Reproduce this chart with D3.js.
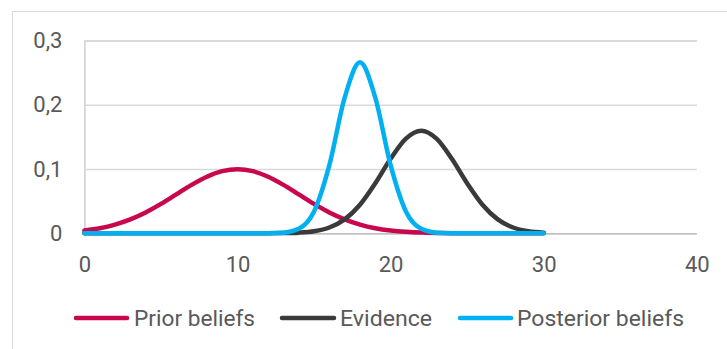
<!DOCTYPE html>
<html>
<head>
<meta charset="utf-8">
<script src="https://cdn.jsdelivr.net/npm/d3@7"></script>
<style>
  html, body { margin: 0; padding: 0; background: #ffffff; }
  svg { display: block; }
  text { font-family: Roboto, "Open Sans", sans-serif; fill: #595959; }
</style>
</head>
<body>
<svg id="chart" width="727" height="349"></svg>
<script>
// x positions shared by every series
const xValues = [0, 1, 2, 3, 4, 5, 6, 7, 8, 9, 10, 11, 12, 13, 14, 15, 16, 17, 18, 19, 20, 21, 22, 23, 24, 25, 26, 27, 28, 29, 30];

// density values for each series
const priorBeliefs = [0.0044, 0.0079, 0.0135, 0.0216, 0.0324, 0.0457, 0.0605, 0.0753, 0.0880, 0.0967, 0.0997, 0.0967, 0.0880, 0.0753, 0.0605, 0.0457, 0.0324, 0.0216, 0.0135, 0.0079, 0.0044, 0.0023, 0.0011, 0.0005, 0.0002, 0.0001, 0, 0, 0, 0, 0];
const evidence = [0, 0, 0, 0, 0, 0, 0, 0, 0, 0, 0, 0, 0.0001, 0.0003, 0.0010, 0.0032, 0.0090, 0.0216, 0.0444, 0.0777, 0.1159, 0.1473, 0.1596, 0.1473, 0.1159, 0.0777, 0.0444, 0.0216, 0.0090, 0.0032, 0.0010];
const posteriorBeliefs = [0, 0, 0, 0, 0, 0, 0, 0, 0, 0, 0, 0, 0.0001, 0.0009, 0.0070, 0.0340, 0.1060, 0.2110, 0.2660, 0.2110, 0.1060, 0.0340, 0.0070, 0.0009, 0.0001, 0, 0, 0, 0, 0, 0];

const seriesNames = ["Prior beliefs", "Evidence", "Posterior beliefs"];
const seriesColors = ["#C8074D", "#3A3A3A", "#00B0F0"];

const xTicks = [0, 10, 20, 30, 40];
const yTicks = [0, 0.1, 0.2, 0.3];

const svg = d3.select("#chart");

// outer chart frame
svg.append("rect")
  .attr("x", 12.5).attr("y", 11.5)
  .attr("width", 760).attr("height", 400)
  .attr("fill", "none").attr("stroke", "#d9d9d9").attr("stroke-width", 1);

const x = d3.scaleLinear().domain([0, 40]).range([84.4, 696.8]);
const y = d3.scaleLinear().domain([0, 0.3]).range([233.3, 40.5]);

const comma = d3.formatLocale({ decimal: ",", thousands: " ", grouping: [3], currency: ["", ""] });
const yFmt = v => v === 0 ? "0" : comma.format(".1f")(v);

// horizontal gridlines and y labels
const yAxis = d3.axisLeft(y).tickValues(yTicks).tickSize(-(x.range()[1] - x.range()[0])).tickFormat(yFmt).tickPadding(22);
const gy = svg.append("g").attr("transform", `translate(${x.range()[0]},0)`).call(yAxis);
gy.select(".domain").attr("stroke", "#d0d0d0").attr("stroke-width", 1.5);
gy.selectAll(".tick line").attr("stroke", d => d === 0 ? "#bfbfbf" : "#d9d9d9").attr("stroke-width", 1.5);
gy.selectAll(".tick text").attr("font-size", 22).attr("fill", "#595959")
  .attr("font-family", "Roboto, sans-serif");

// x-axis labels
const xAxis = d3.axisBottom(x).tickValues(xTicks).tickSize(0).tickPadding(23);
const gx = svg.append("g").attr("transform", `translate(0,${y(0)})`).call(xAxis);
gx.select(".domain").remove();
gx.selectAll(".tick text").attr("font-size", 22).attr("fill", "#595959")
  .attr("font-family", "Roboto, sans-serif");

// density curves
const seriesData = [priorBeliefs, evidence, posteriorBeliefs];
const line = d3.line()
  .x((d, i) => x(xValues[i]))
  .y(d => y(d))
  .curve(d3.curveMonotoneX);

svg.append("g").selectAll("path")
  .data(seriesData)
  .join("path")
  .attr("d", d => line(d))
  .attr("fill", "none")
  .attr("stroke", (d, i) => seriesColors[i])
  .attr("stroke-width", 4.5)
  .attr("stroke-linecap", "round")
  .attr("stroke-linejoin", "round");

// legend
const legendItems = [
  { name: seriesNames[0], color: seriesColors[0], x0: 76, x1: 127, tx: 134, w: 121 },
  { name: seriesNames[1], color: seriesColors[1], x0: 282, x1: 334, tx: 340, w: 92 },
  { name: seriesNames[2], color: seriesColors[2], x0: 460, x1: 511, tx: 517, w: 167 }
];
const legendY = 318;
const lg = svg.append("g").selectAll("g").data(legendItems).join("g");
lg.append("line")
  .attr("x1", d => d.x0).attr("x2", d => d.x1)
  .attr("y1", legendY).attr("y2", legendY)
  .attr("stroke", d => d.color).attr("stroke-width", 4.5).attr("stroke-linecap", "round");
lg.append("text")
  .attr("x", d => d.tx).attr("y", legendY)
  .attr("dy", "0.35em")
  .attr("font-size", 22)
  .attr("textLength", d => d.w)
  .attr("lengthAdjust", "spacingAndGlyphs")
  .text(d => d.name);
</script>
</body>
</html>
